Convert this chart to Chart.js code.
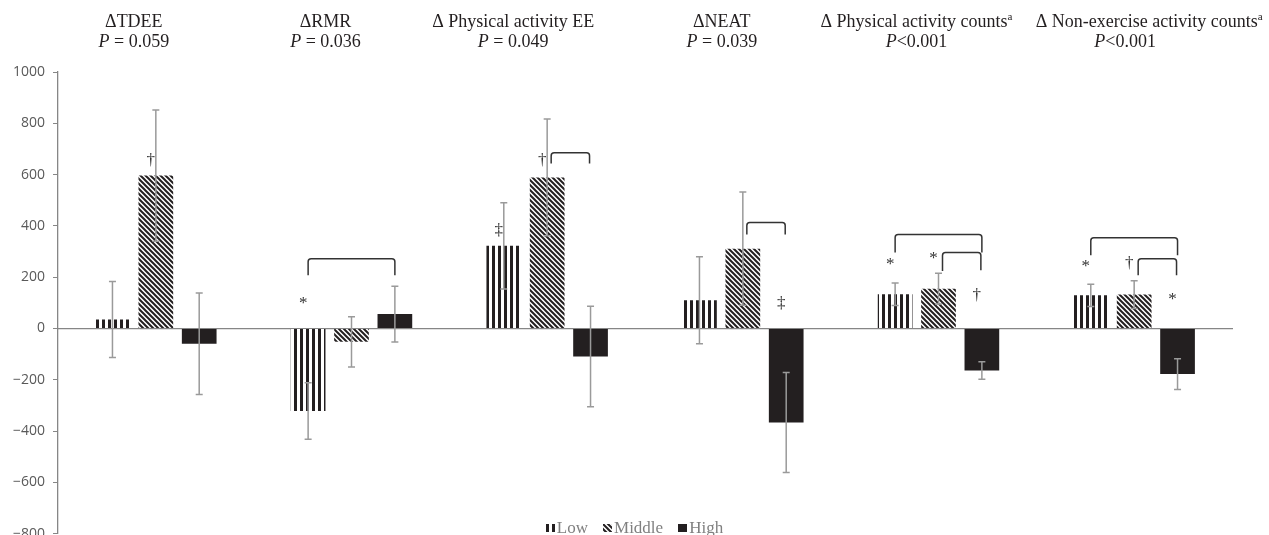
<!DOCTYPE html>
<html>
<head>
<meta charset="utf-8">
<script src="https://cdn.jsdelivr.net/npm/chart.js@4.4.1/dist/chart.umd.min.js"></script>
<style>
  html, body { margin: 0; padding: 0; background: #fff; overflow: hidden; }
  #wrap { width: 1269px; height: 550px; position: relative; }
</style>
</head>
<body>
<div id="wrap"><canvas id="energyChart"></canvas></div>
<script>
const groups = ["ΔTDEE", "ΔRMR", "Δ Physical activity EE", "ΔNEAT", "Δ Physical activity counts", "Δ Non-exercise activity counts"];
const groupNotes = ["", "", "", "", "a", "a"];
const pTexts = [" = 0.059", " = 0.036", " = 0.049", " = 0.039", "<0.001", "<0.001"];

const seriesNames = ["Low", "Middle", "High"];
const lowMeans = [35, -322, 322, 110, 133, 129];
const lowSD = [148, 110, 168, 170, 44, 43];
const middleMeans = [596, -52, 589, 311, 155, 132];
const middleSD = [256, 98, 228, 221, 60, 54];
const highMeans = [-60, 56, -109, -367, -164, -178];
const highSD = [198, 109, 196, 195, 34, 60];

const yMin = -800;
const yMax = 1000;
const yStep = 200;

// [group, bar, symbol, value]
const markers = [
  [0, 1, "†", 656],
  [1, 0, "*", 99],
  [2, 0, "‡", 380],
  [2, 1, "†", 656],
  [3, 2, "‡", 98],
  [4, 0, "*", 250],
  [4, 1, "*", 273],
  [4, 2, "†", 129],
  [5, 0, "*", 242],
  [5, 1, "†", 254],
  [5, 2, "*", 114]
];

// [group, fromBar, toBar, top, leftEnd, rightEnd]
const brackets = [
  [1, 0, 2, 272, 207, 207],
  [2, 1, 2, 685, 643, 643],
  [3, 1, 2, 413, 366, 366],
  [4, 0, 2, 366, 296, 296],
  [4, 1, 2, 296, 224, 227],
  [5, 0, 2, 354, 285, 285],
  [5, 1, 2, 272, 207, 207]
];

const canvas = document.getElementById("energyChart");
const mainCtx = canvas.getContext("2d");
const ink = "#231f20";

function makePattern(kind) {
  const c = document.createElement("canvas");
  const g = c.getContext("2d");
  if (kind === "vertical") {
    c.width = 6; c.height = 6;
    g.fillStyle = "#fff"; g.fillRect(0, 0, 6, 6);
    g.fillStyle = ink; g.fillRect(0, 0, 3, 6);
  } else {
    c.width = 5; c.height = 5;
    g.fillStyle = "#fff"; g.fillRect(0, 0, 5, 5);
    g.strokeStyle = ink; g.lineWidth = 2;
    g.beginPath();
    for (const k of [-5, 0, 5]) { g.moveTo(k - 1, -1); g.lineTo(k + 6, 6); }
    g.stroke();
  }
  return mainCtx.createPattern(c, "repeat");
}

const fills = [makePattern("vertical"), makePattern("diagonal"), ink];
const sds = [lowSD, middleSD, highSD];

const errorBars = {
  id: "errorBars",
  afterDatasetsDraw(chart) {
    const { ctx } = chart;
    const y = chart.scales.y;
    ctx.save();
    ctx.strokeStyle = "#9a9a9a";
    ctx.lineWidth = 1.5;
    chart.data.datasets.forEach((ds, i) => {
      chart.getDatasetMeta(i).data.forEach((bar, j) => {
        const v = ds.data[j], sd = sds[i][j];
        const top = y.getPixelForValue(v + sd), bot = y.getPixelForValue(v - sd);
        ctx.beginPath();
        ctx.moveTo(bar.x, top); ctx.lineTo(bar.x, bot);
        ctx.moveTo(bar.x - 3.5, top); ctx.lineTo(bar.x + 3.5, top);
        ctx.moveTo(bar.x - 3.5, bot); ctx.lineTo(bar.x + 3.5, bot);
        ctx.stroke();
      });
    });
    ctx.restore();
  }
};

const annotations = {
  id: "annotations",
  afterDraw(chart) {
    const { ctx } = chart;
    const x = chart.scales.x, y = chart.scales.y;
    const barX = (g, b) => chart.getDatasetMeta(b).data[g].x;
    ctx.save();

    // significance markers
    ctx.fillStyle = "#333";
    ctx.textAlign = "center";
    ctx.textBaseline = "middle";
    ctx.font = "17px 'Liberation Serif'";
    markers.forEach(([g, b, s, v]) => {
      ctx.fillText(s, barX(g, b) - 5, y.getPixelForValue(v));
    });

    // brackets
    ctx.strokeStyle = "#333";
    ctx.lineWidth = 1.5;
    brackets.forEach(([g, from, to, top, l, r]) => {
      const x1 = barX(g, from) + (from === 1 ? 4 : 0);
      const x2 = barX(g, to) - (from === 1 ? 1 : 0);
      const yt = y.getPixelForValue(top);
      ctx.beginPath();
      ctx.moveTo(x1, y.getPixelForValue(l));
      ctx.arcTo(x1, yt, x2, yt, 3);
      ctx.arcTo(x2, yt, x2, y.getPixelForValue(r), 3);
      ctx.lineTo(x2, y.getPixelForValue(r));
      ctx.stroke();
    });

    // group titles (header line and P line are offset from the group centre)
    const headShift = [-22, -26, -34, -21, -22, 15];
    const pShift = [-22, -26, -34, -21, -22, -9];
    ctx.fillStyle = ink;
    ctx.textBaseline = "alphabetic";
    ctx.textAlign = "left";
    groups.forEach((name, i) => {
      const gx = x.getPixelForValue(i);
      let cx = gx + headShift[i];
      ctx.font = "18px 'Liberation Serif'";
      const w1 = ctx.measureText(name).width;
      ctx.font = "11px 'Liberation Serif'";
      const wn = groupNotes[i] ? ctx.measureText(groupNotes[i]).width : 0;
      let sx = cx - (w1 + wn) / 2;
      ctx.font = "18px 'Liberation Serif'";
      ctx.fillText(name, sx, 27);
      if (groupNotes[i]) {
        ctx.font = "11px 'Liberation Serif'";
        ctx.fillText(groupNotes[i], sx + w1, 20);
      }
      cx = gx + pShift[i];
      ctx.font = "italic 18px 'Liberation Serif'";
      const wp = ctx.measureText("P").width;
      ctx.font = "18px 'Liberation Serif'";
      const wr = ctx.measureText(pTexts[i]).width;
      sx = cx - (wp + wr) / 2;
      ctx.font = "italic 18px 'Liberation Serif'";
      ctx.fillText("P", sx, 47);
      ctx.font = "18px 'Liberation Serif'";
      ctx.fillText(pTexts[i], sx + wp, 47);
    });

    // legend
    ctx.font = "17px 'Liberation Serif'";
    const box = 8, gapIn = 3, gapOut = 15;
    const widths = seriesNames.map(n => box + gapIn + ctx.measureText(n).width);
    const total = widths.reduce((a, b) => a + b, 0) + gapOut * (widths.length - 1);
    let lx = chart.width / 2 - total / 2;
    const base = 533;
    seriesNames.forEach((n, i) => {
      ctx.save();
      ctx.translate(Math.round(lx), base - 9);
      ctx.fillStyle = fills[i];
      ctx.fillRect(0, 0, box + 1, box);
      ctx.restore();
      ctx.fillStyle = "#808080";
      ctx.fillText(n, lx + box + gapIn, base);
      lx += widths[i] + gapOut;
    });
    ctx.restore();
  }
};

new Chart(canvas, {
  type: "bar",
  data: {
    labels: groups,
    datasets: [
      { label: seriesNames[0], data: lowMeans, backgroundColor: fills[0] },
      { label: seriesNames[1], data: middleMeans, backgroundColor: fills[1] },
      { label: seriesNames[2], data: highMeans, backgroundColor: fills[2] }
    ]
  },
  options: {
    responsive: true,
    maintainAspectRatio: false,
    animation: false,
    layout: { padding: { top: 72, right: 37, left: 0, bottom: 0 } },
    datasets: { bar: { categoryPercentage: 0.665, barPercentage: 0.8 } },
    plugins: { legend: { display: false }, tooltip: { enabled: false } },
    scales: {
      x: {
        position: { y: 0 },
        grid: { display: false },
        ticks: { display: false },
        border: { color: "#868686", width: 1.3 }
      },
      y: {
        min: yMin,
        max: yMax,
        ticks: {
          stepSize: yStep,
          color: "#595959",
          padding: 8,
          font: { family: "'Open Sans'", size: 14 },
          callback: v => (v < 0 ? "\u2212" + Math.abs(v) : String(v))
        },
        grid: { drawOnChartArea: false, tickLength: 5, color: "#868686" },
        border: { color: "#868686", width: 1.3 },
        afterFit: s => { s.width = 58; }
      }
    }
  },
  plugins: [errorBars, annotations]
});
</script>
</body>
</html>
